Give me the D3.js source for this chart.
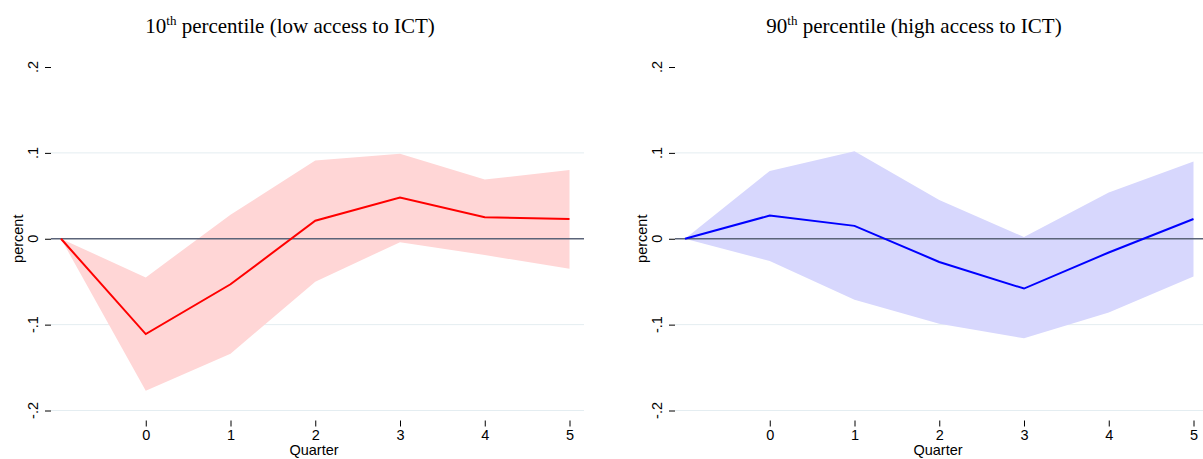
<!DOCTYPE html>
<html>
<head>
<meta charset="utf-8">
<title>IRF by ICT access</title>
<script src="https://d3js.org/d3.v7.min.js"></script>
<style>
  body { margin: 0; background: #fff; }
  text { fill: #000; }
</style>
</head>
<body>
<script>
// quarters (-1 is the baseline before the shock)
var quarters = [-1, 0, 1, 2, 3, 4, 5];
var xTicks = [0, 1, 2, 3, 4, 5];
var yTicks = [0.2, 0.1, 0, -0.1, -0.2];
var yTickLabels = [".2", ".1", "0", "-.1", "-.2"];
var gridTicks = [0.1, -0.1, -0.2];

// 10th percentile (low access)
var lowIrf   = [0, -0.111, -0.053, 0.021, 0.048, 0.025, 0.023];
var lowUpper = [0, -0.045, 0.028, 0.091, 0.099, 0.069, 0.080];
var lowLower = [0, -0.177, -0.134, -0.050, -0.004, -0.019, -0.035];

// 90th percentile (high access)
var highIrf   = [0, 0.027, 0.015, -0.027, -0.058, -0.016, 0.023];
var highUpper = [0, 0.079, 0.102, 0.045, 0.002, 0.054, 0.090];
var highLower = [0, -0.026, -0.071, -0.099, -0.116, -0.086, -0.044];

var panels = [
  {num: "10", rest: " percentile (low access to ICT)", irf: lowIrf, up: lowUpper, lo: lowLower,
   line: "#ff0000", band: "#ffd6d6"},
  {num: "90", rest: " percentile (high access to ICT)", irf: highIrf, up: highUpper, lo: highLower,
   line: "#0000ff", band: "#d7d7fd"}
];

var sans = "Liberation Sans, Arial, sans-serif";

var svg = d3.select("body").append("svg")
    .attr("width", 1203)
    .attr("height", 459);

var x = d3.scaleLinear().domain([-1, 5]).range([61, 569.5]);
var y = d3.scaleLinear().domain([-0.2, 0.2]).range([410.5, 67]);

panels.forEach(function(p, i) {
  var g = svg.append("g").attr("transform", "translate(" + (i * 624) + ",0)");

  // title
  var t = g.append("text")
      .attr("x", 290).attr("y", 33)
      .attr("text-anchor", "middle")
      .style("font-family", "Liberation Serif, Times New Roman, serif")
      .style("font-size", "21px");
  t.append("tspan").text(p.num);
  t.append("tspan").attr("dy", -8).style("font-size", "13px").text("th");
  t.append("tspan").attr("dy", 8).text(p.rest);

  // grid lines
  g.selectAll(".grid").data(gridTicks).enter().append("line")
      .attr("x1", 51).attr("x2", 584)
      .attr("y1", function(d) { return y(d); })
      .attr("y2", function(d) { return y(d); })
      .attr("stroke", "#e4edf1").attr("stroke-width", 1);

  // confidence band
  var area = d3.area()
      .x(function(d, j) { return x(quarters[j]); })
      .y0(function(d, j) { return y(p.lo[j]); })
      .y1(function(d, j) { return y(p.up[j]); });
  g.append("path").datum(quarters)
      .attr("d", area)
      .attr("fill", p.band);

  // zero line
  g.append("line")
      .attr("x1", 51).attr("x2", 584)
      .attr("y1", y(0)).attr("y2", y(0))
      .attr("stroke", "#5b6479").attr("stroke-width", 1.6);

  // irf line
  var line = d3.line()
      .x(function(d, j) { return x(quarters[j]); })
      .y(function(d, j) { return y(p.irf[j]); });
  g.append("path").datum(quarters)
      .attr("d", line)
      .attr("fill", "none")
      .attr("stroke", p.line)
      .attr("stroke-width", 2);

  // y axis
  var yAxis = g.append("g")
      .attr("transform", "translate(51,0)")
      .call(d3.axisLeft(y).tickValues(yTicks).tickSize(6).tickFormat(""));
  yAxis.select(".domain").remove();
  yAxis.selectAll(".tick line").attr("stroke", "#000").attr("stroke-width", 1);

  g.selectAll(".ylab").data(yTicks).enter().append("text")
      .attr("transform", function(d) { return "translate(33," + y(d) + ") rotate(-90)"; })
      .attr("text-anchor", "middle")
      .attr("dominant-baseline", "central")
      .style("font-family", sans)
      .style("font-size", "14.5px")
      .text(function(d, j) { return yTickLabels[j]; });

  g.append("text")
      .attr("transform", "translate(18," + y(0) + ") rotate(-90)")
      .attr("text-anchor", "middle")
      .attr("dominant-baseline", "central")
      .style("font-family", sans)
      .style("font-size", "14.5px")
      .text("percent");

  // x axis
  var xAxis = g.append("g")
      .attr("transform", "translate(0,420.5)")
      .call(d3.axisBottom(x).tickValues(xTicks).tickSize(6).tickPadding(3)
        .tickFormat(function(d) { return String(d); }));
  xAxis.select(".domain").remove();
  xAxis.selectAll(".tick line").attr("stroke", "#000");
  xAxis.selectAll(".tick text")
      .style("font-family", sans)
      .style("font-size", "14.5px")
      .attr("fill", "#000");

  g.append("text")
      .attr("x", 314).attr("y", 455)
      .attr("text-anchor", "middle")
      .style("font-family", sans)
      .style("font-size", "14.5px")
      .text("Quarter");
});
</script>
</body>
</html>
